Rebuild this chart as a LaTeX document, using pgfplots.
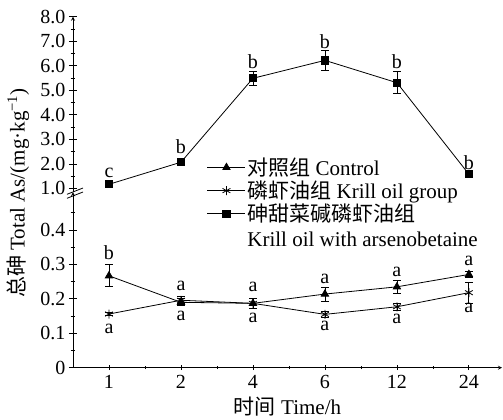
\documentclass[border=0pt]{standalone}
\usepackage{pgfplots}
\pgfplotsset{compat=1.18}
\usepackage{fontspec}
\setmainfont{Liberation Serif}
\newfontfamily\cjk{Noto Sans CJK SC}
\tikzset{lab/.style={font=\fontsize{20}{20}\selectfont}}
\begin{document}
\begin{tikzpicture}
\pgfplotsset{
  common/.style={
    scale only axis, width=429pt,
    xmin=-0.5, xmax=5.46,
    axis line style={line width=0.8pt,-},
    tick style={line width=0.8pt, black},
    tick align=inside,
    major tick length=8pt, minor tick length=4.5pt,
    tick label style={font=\fontsize{20}{20}\selectfont},
    /pgf/number format/assume math mode=true,
    clip=false,
  },
  ser/.style={black, line width=0.8pt, mark options={solid},
    error bars/y dir=both, error bars/y explicit,
    error bars/error bar style={line width=0.8pt},
    error bars/error mark options={rotate=90, mark size=3.8pt, line width=0.8pt}},
}
% ---------- lower axis ----------
\begin{axis}[common, at={(0pt,0pt)}, anchor=south west,
  height=175.5pt, ymin=0, ymax=0.51,
  axis x line=bottom, axis y line=left,
  xtick={0,1,2,3,4,5}, xticklabels={1,2,4,6,12,24},
  minor xtick={0.5,1.5,2.5,3.5,4.5},
  major x tick style={/pgfplots/major tick length=5pt},
  minor x tick style={/pgfplots/minor tick length=3pt},
  ytick={0,0.1,0.2,0.3,0.4}, yticklabels={0,0.1,0.2,0.3,0.4},
  minor ytick={0.05,0.15,0.25,0.35,0.45},
]
\addplot[ser, mark=triangle*, mark size=4.2pt] table[x=x,y=y,y error=e] {
x y e
0 0.267 0.032
1 0.190 0.010
2 0.187 0.015
3 0.214 0.020
4 0.235 0.020
5 0.271 0.010
};
\addplot[ser, mark=asterisk, mark size=4.5pt] table[x=x,y=y,y error=e] {
x y e
0 0.156 0.005
1 0.196 0.010
2 0.187 0.015
3 0.155 0.008
4 0.177 0.010
5 0.218 0.030
};
\node[lab] at (axis cs:0,0.333) {b};
\node[lab] at (axis cs:0,0.112) {a};
\node[lab] at (axis cs:1,0.238) {a};
\node[lab] at (axis cs:1,0.151) {a};
\node[lab] at (axis cs:2,0.235) {a};
\node[lab] at (axis cs:2,0.144) {a};
\node[lab] at (axis cs:3,0.258) {a};
\node[lab] at (axis cs:3,0.121) {a};
\node[lab] at (axis cs:4,0.279) {a};
\node[lab] at (axis cs:4,0.142) {a};
\node[lab] at (axis cs:5,0.311) {a};
\node[lab] at (axis cs:5,0.174) {a};
\end{axis}
% ---------- upper axis ----------
\begin{axis}[common, at={(0pt,175.5pt)}, anchor=south west,
  height=175.5pt, ymin=0.848, ymax=8,
  axis x line=none, axis y line=left,
  xtick=\empty,
  ytick={1,2,3,4,5,6,7,8}, yticklabels={1.0,2.0,3.0,4.0,5.0,6.0,7.0,8.0},
  minor ytick={1.5,2.5,3.5,4.5,5.5,6.5,7.5},
  legend cell align=left,
  legend style={at={(0.312,0.205)}, anchor=north west, draw=none, fill=none,
    inner sep=0pt, row sep=1pt,
    font=\fontsize{21}{23}\selectfont,
    nodes={inner sep=1.5pt}},
  legend image code/.code={\draw[#1, mark repeat=2, mark phase=2] plot coordinates {(0pt,0pt) (19pt,0pt) (38pt,0pt)};},
]
\addlegendimage{black, line width=0.8pt, mark=triangle*, mark size=4.2pt}
\addlegendentry{{\cjk 对照组} Control}
\addlegendimage{black, line width=0.8pt, mark=asterisk, mark size=4.5pt}
\addlegendentry{{\cjk 磷虾油组} Krill oil group}
\addplot[ser, mark=square*, mark size=3.6pt] table[x=x,y=y,y error=e] {
x y e
0 1.17 0.05
1 2.07 0.15
2 5.49 0.30
3 6.22 0.40
4 5.31 0.45
5 1.58 0.05
};
\addlegendentry{{\cjk 砷甜菜碱磷虾油组}}
\addlegendimage{empty legend}
\addlegendentry{\rule{0pt}{19pt}Krill oil with arsenobetaine}
\node[lab] at (axis cs:0,1.62) {c};
\node[lab] at (axis cs:1,2.70) {b};
\node[lab] at (axis cs:2,6.17) {b};
\node[lab] at (axis cs:3,6.97) {b};
\node[lab] at (axis cs:4,6.17) {b};
\node[lab] at (axis cs:5,2.07) {b};
\end{axis}
% break marks
\draw[line width=0.8pt] (-6pt,173.4pt) -- (10pt,179.7pt);
\draw[line width=0.8pt] (-6pt,169.4pt) -- (10pt,175.7pt);
% axis titles
\node[rotate=90, font=\fontsize{21}{21}\selectfont] at (-55pt,174.7pt) {{\cjk 总砷} Total As/(mg·kg\textsuperscript{−1})};
\node[font=\fontsize{21}{21}\selectfont] at (214.5pt,-39pt) {{\cjk 时间} Time/h};
\pgfresetboundingbox
\useasboundingbox (-73pt,-52.3pt) rectangle (430pt,367.7pt);
\end{tikzpicture}
\end{document}
